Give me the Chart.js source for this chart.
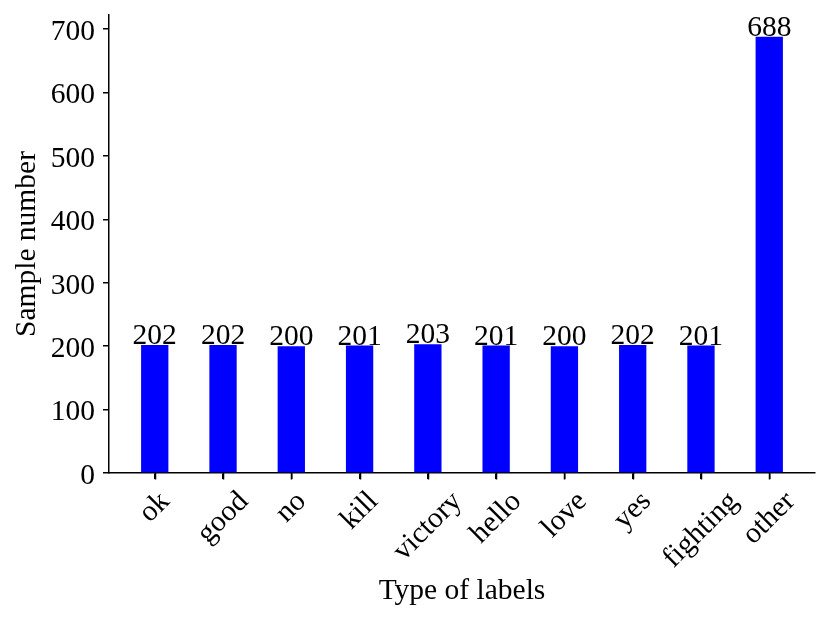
<!DOCTYPE html>
<html>
<head>
<meta charset="utf-8">
<script src="https://cdn.jsdelivr.net/npm/chart.js@4/dist/chart.umd.min.js"></script>
<style>
  html, body { margin: 0; padding: 0; background: #ffffff; }
  #wrap { width: 830px; height: 624px; }
</style>
</head>
<body>
<div id="wrap"><canvas id="c" width="830" height="624"></canvas></div>
<script>
// ---- data ----
const categories = ["ok", "good", "no", "kill", "victory", "hello", "love", "yes", "fighting", "other"];
const sampleCounts = [202, 202, 200, 201, 203, 201, 200, 202, 201, 688];
const yTickValues = [0, 100, 200, 300, 400, 500, 600, 700];
const xTitle = "Type of labels";
const yTitle = "Sample number";

const FONT = "'Liberation Serif', 'Times New Roman', Times, serif";
const FS = 29.5;

Chart.defaults.font.family = FONT;
Chart.defaults.font.size = FS;
Chart.defaults.color = "#000000";

const points = sampleCounts.map((v, i) => ({ x: i, y: v }));

const labelPlugin = {
  id: "labelPlugin",
  afterDatasetsDraw(chart) {
    const ctx = chart.ctx;
    const meta = chart.getDatasetMeta(0);
    ctx.save();
    ctx.font = FS + "px " + FONT;
    ctx.fillStyle = "#000000";
    ctx.textAlign = "center";
    ctx.textBaseline = "alphabetic";
    meta.data.forEach((bar, i) => {
      ctx.fillText(String(sampleCounts[i]), bar.x, bar.y - 1);
    });
    ctx.restore();
  },
  afterDraw(chart) {
    const ctx = chart.ctx;
    const xs = chart.scales.x;
    const base = chart.chartArea.bottom;
    const top = base + 12;
    ctx.save();
    // category tick marks
    ctx.strokeStyle = "#000000";
    ctx.lineWidth = 1.5;
    categories.forEach((lab, i) => {
      const px = Math.round(xs.getPixelForValue(i)) + 0.5;
      ctx.beginPath();
      ctx.moveTo(px, base);
      ctx.lineTo(px, base + 6.5);
      ctx.stroke();
    });
    // rotated category labels, centred on the tick
    ctx.font = FS + "px " + FONT;
    ctx.fillStyle = "#000000";
    ctx.textAlign = "center";
    ctx.textBaseline = "middle";
    const h = FS * 1.15;
    categories.forEach((lab, i) => {
      const w = ctx.measureText(lab).width;
      const half = (w + h) / (2 * Math.SQRT2);
      const cx = xs.getPixelForValue(i);
      const cy = top + half;
      ctx.save();
      ctx.translate(cx, cy);
      ctx.rotate(-Math.PI / 4);
      ctx.fillText(lab, 0, 0);
      ctx.restore();
    });
    ctx.restore();
  }
};

new Chart(document.getElementById("c"), {
  type: "bar",
  data: {
    datasets: [{
      data: points,
      backgroundColor: "#0000ff",
      borderWidth: 0,
      barPercentage: 0.4,
      categoryPercentage: 1.0
    }]
  },
  options: {
    responsive: false,
    animation: false,
    devicePixelRatio: 1,
    events: [],
    layout: { padding: { top: 15, right: 15, left: 6, bottom: 11 } },
    plugins: { legend: { display: false }, tooltip: { enabled: false } },
    scales: {
      x: {
        type: "linear",
        min: -0.67,
        max: 9.67,
        offset: false,
        ticks: { display: false, stepSize: 1, includeBounds: false },
        grid: { display: true, offset: false, drawOnChartArea: false, drawTicks: true, tickLength: 6, color: "#000000", lineWidth: 1.5 },
        border: { display: true, color: "#000000", width: 1.5 },
        title: { display: true, text: xTitle, font: { size: FS, family: FONT }, color: "#000000", padding: { top: 0, bottom: 4 } },
        afterFit(scale) {
          scale.height = 140;
          scale.paddingLeft = 0; scale.paddingRight = 0;
        }
      },
      y: {
        type: "linear",
        min: 0,
        max: 722.4,
        afterBuildTicks(scale) {
          scale.ticks = yTickValues.map(v => ({ value: v }));
        },
        ticks: { stepSize: 100, includeBounds: false, padding: 8, labelOffset: 3, color: "#000000", font: { size: FS, family: FONT } },
        grid: { display: true, drawOnChartArea: false, drawTicks: true, tickLength: 6, color: "#000000", lineWidth: 1.5 },
        border: { display: true, color: "#000000", width: 1.5 },
        title: { display: true, text: yTitle, font: { size: FS, family: FONT }, color: "#000000", padding: { top: 4, bottom: 0 } },
        afterFit(scale) {
          scale.width = 103;
          scale.paddingTop = 0; scale.paddingBottom = 0;
        }
      }
    }
  },
  plugins: [labelPlugin]
});
</script>
</body>
</html>
